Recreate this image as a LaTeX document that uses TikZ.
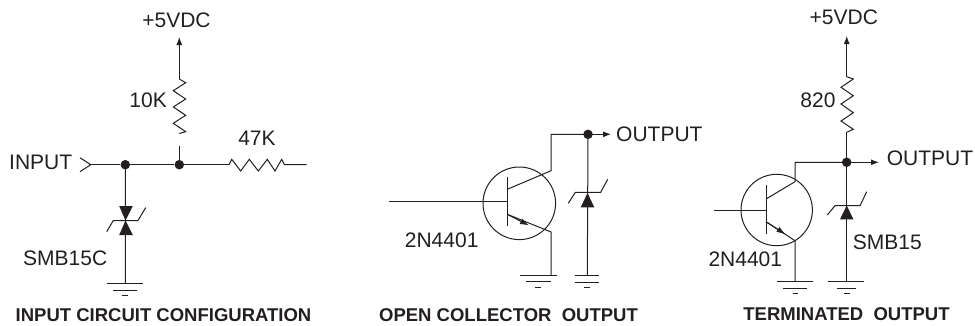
\documentclass[tikz,border=0pt]{standalone}
\usepackage{fontspec}
\setmainfont{Liberation Sans}
\usetikzlibrary{arrows.meta,calc}
\definecolor{ink}{HTML}{231F20}
\tikzset{
  x=1pt,y=-1pt,
  wire/.style={draw=ink,line width=1pt,line cap=butt},
  feed/.style={wire,-{Latex[length=8pt,width=6pt]}},
  emit/.style={wire,-{Latex[length=9pt,width=6pt]}},
  dotn/.style={circle,fill=ink,inner sep=0pt,minimum size=9.5pt},
  lbl/.style={text=ink,font=\fontsize{21}{23}\selectfont,inner sep=0pt},
  ttl/.style={text=ink,font=\bfseries\fontsize{18.5}{20}\selectfont,inner sep=0pt},
  tri/.style={fill=ink,draw=none},
}
\newcommand{\gnd}[8]{% name, wire-level y, x0,x1, x2,x3, x4,x5
  \coordinate (#1) at (#3,#2);
  \draw[wire] (#3,#2) -- (#4,#2);
  \draw[wire] (#5,#2+6.5) -- (#6,#2+6.5);
  \draw[wire] (#7,#2+12) -- (#8,#2+12);}
\begin{document}
\begin{tikzpicture}
\useasboundingbox (0,0) rectangle (975,325);
% ---------- left
\node[lbl] (v1) at (176.5,20) {+5VDC};
\coordinate (v1tip) at (179.3,37);
\coordinate (r1t) at (179.3,79);
\coordinate (r1b) at (179.3,133.5);
\coordinate (r1s) at (179.3,146);
\node[dotn] (j1) at (125.3,164.7) {};
\node[dotn] (j2) at (179.3,164.7) {};
\coordinate (inA) at (80,157.7);
\coordinate (inT) at (90.7,164.7);
\coordinate (inB) at (80,171.7);
\coordinate (r2l) at (229,164.7);
\coordinate (r2r) at (284.5,164.7);
\coordinate (r2e) at (306.7,164.7);
\draw[feed] (r1t) -- (v1tip);
\draw[wire] (r1t) -- (185.7,82.7) -- (173.3,90.7) -- (185.7,99) -- (173.3,107) -- (185.7,115.3) -- (173.3,123.3) -- (185.7,131.7) -- (r1b);
\draw[wire] (r1s) -- (j2.center);
\draw[wire] (inA) -- (inT) -- (inB);
\draw[wire] (inT) -- (j1) -- (j2) -- (r2l);
\draw[wire] (r2l) -- (231.7,159.3) -- (240.7,171) -- (249.3,159.3) -- (258.3,171) -- (267.3,159.3) -- (275,171) -- (281.7,159.3) -- (r2r) -- (r2e);
\coordinate (z1) at (125.5,220.5);
\fill[tri] (119.2,206) -- (132.8,206) -- (z1) -- cycle;
\fill[tri] (119.2,235) -- (132.8,235) -- (z1) -- cycle;
\draw[wire] (106.7,231.7) -- (113.3,220.5) -- (138,220.5) -- (145.7,207.6);
\gnd{g1}{283.5}{107}{143}{113}{137}{122}{128}
\draw[wire] (j1.center) -- (125.5,283.5);
\node[lbl,anchor=west] (tin) at (9,162) {INPUT};
\node[lbl,anchor=east] (t10k) at (167,100) {10K};
\node[lbl] (t47k) at (257,138) {47K};
\node[lbl,anchor=west] (tsmbc) at (23,258) {SMB15C};
\node[ttl] (t1) at (163.5,315) {INPUT CIRCUIT CONFIGURATION};
% ---------- middle
\node[draw=ink,line width=1pt,circle,minimum size=72.6pt,inner sep=0pt] (q1) at (519.3,203.3) {};
\coordinate (b1s) at (389,201);
\coordinate (b1e) at (507.3,201);
\draw[wire] (b1s) -- (b1e);
\draw[wire] (507.3,177.3) -- (507.3,226);
\coordinate (c1) at (551,170.7);
\coordinate (c1t) at (551,134.3);
\node[dotn] (j3) at (588,134.3) {};
\coordinate (o1) at (611,134.3);
\coordinate (e1) at (551,232);
\draw[wire] (507.3,189.3) -- (c1) -- (c1t) -- (j3.center);
\draw[feed] (j3.center) -- (o1);
\draw[wire] (507.3,214.3) -- (e1) -- (551,275);
\draw[emit] (507.3,214.3) -- (529,225.5);
\gnd{g2}{275}{520}{556.7}{526.3}{550.7}{535.3}{541.3}
\fill[tri] (580.7,207.3) -- (594.3,207.3) -- (587.5,193) -- cycle;
\draw[wire] (568.3,203.3) -- (575.3,192.3) -- (600.7,192.3) -- (607.7,179.3);
\draw[wire] (j3.center) -- (587.3,275.5);
\gnd{g3}{275.7}{575}{599}{575}{599}{584}{590}
\node[lbl,anchor=west] (t2n1) at (404.7,240.7) {2N4401};
\node[lbl,anchor=west] (to1) at (616,134) {OUTPUT};
\node[ttl] (t2) at (508.5,315) {OPEN COLLECTOR\ \ OUTPUT};
% ---------- right
\node[lbl] (v2) at (843.8,17.5) {+5VDC};
\coordinate (v2tip) at (846.7,36);
\coordinate (r3t) at (846.7,76.7);
\coordinate (r3b) at (846.7,132.3);
\node[dotn] (j4) at (846.7,162.3) {};
\coordinate (o2) at (879,162.3);
\draw[feed] (r3t) -- (v2tip);
\draw[wire] (r3t) -- (853.3,79) -- (841,87.3) -- (853.3,95.7) -- (841,104) -- (853.3,112.7) -- (841,121) -- (853.3,129.3) -- (r3b);
\draw[wire] (r3b) -- (j4.center);
\draw[feed] (j4.center) -- (o2);
\node[draw=ink,line width=1pt,circle,minimum size=71.4pt,inner sep=0pt] (q2) at (776.7,210) {};
\coordinate (c2t) at (795,162.3);
\coordinate (c2) at (795,181.7);
\coordinate (e2) at (795,240.7);
\draw[wire] (j4.center) -- (c2t) -- (c2) -- (766,199);
\draw[wire] (766,185) -- (766,234);
\coordinate (b2s) at (714,210);
\draw[wire] (b2s) -- (766,210);
\draw[wire] (766,221.7) -- (e2) -- (795,281.7);
\draw[emit] (766,221.7) -- (785.5,234.3);
\gnd{g4}{281.7}{777.3}{812.7}{783.3}{806.7}{792.5}{797.5}
\fill[tri] (840,219.3) -- (853.4,219.3) -- (846.7,205.5) -- cycle;
\draw[wire] (827.3,215) -- (835,205.7) -- (860,205.7) -- (866.7,191.7);
\draw[wire] (j4.center) -- (846.7,281.7);
\gnd{g5}{281.7}{828.3}{864}{836.7}{856}{844}{849.5}
\node[lbl,anchor=east] (t820) at (835.7,100.7) {820};
\node[lbl,anchor=west] (to2) at (886.7,158) {OUTPUT};
\node[lbl,anchor=west] (tsmb) at (852.7,242.3) {SMB15};
\node[lbl,anchor=west] (t2n2) at (708.3,259.3) {2N4401};
\node[ttl] (t3) at (846.5,314) {TERMINATED\ \ OUTPUT};
\end{tikzpicture}
\end{document}
